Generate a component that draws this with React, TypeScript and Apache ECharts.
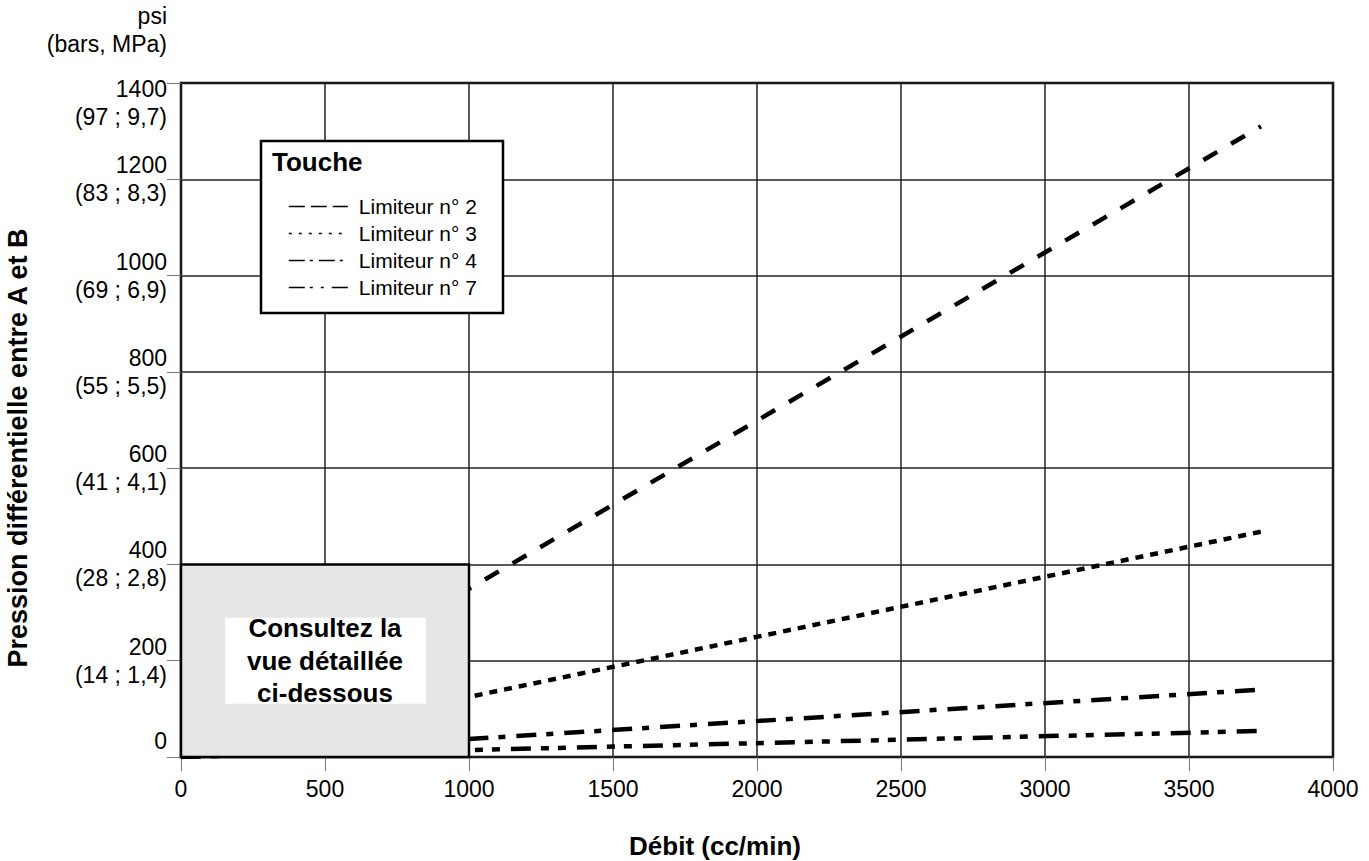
import React, { useEffect, useRef } from 'react';
import * as echarts from 'echarts';

// ---- data ----
const flowRate = [0, 3750];
const limiteur2 = [0, 1310];
const limiteur3 = [0, 468];
const limiteur4 = [0, 140];
const limiteur7 = [0, 54];
const seriesNames = ['Limiteur n° 2', 'Limiteur n° 3', 'Limiteur n° 4', 'Limiteur n° 7'];
const seriesValues = [limiteur2, limiteur3, limiteur4, limiteur7];

const xTickValues = [0, 500, 1000, 1500, 2000, 2500, 3000, 3500, 4000];
const yTickValues = [0, 200, 400, 600, 800, 1000, 1200, 1400];
const yTickMetric = ['', '(14 ; 1,4)', '(28 ; 2,8)', '(41 ; 4,1)', '(55 ; 5,5)', '(69 ; 6,9)', '(83 ; 8,3)', '(97 ; 9,7)'];

const detailFlow = [0, 1000];
const detailPressure = [0, 400];
const detailText = 'Consultez la\nvue détaillée\nci-dessous';

// ---- styles ----
const FONT = '"Liberation Sans", Arial, Helvetica, sans-serif';
const seriesDash = [
  [16, 16],
  [8, 7],
  [20, 10, 7, 11],
  [20, 10, 8, 9, 8, 11],
];
const legendDash = [
  [16, 6],
  [3, 7],
  [16, 5, 3, 6],
  [16, 5, 3, 8, 3, 8],
];

export default function App() {
  const ref = useRef<HTMLDivElement>(null);

  useEffect(() => {
    if (!ref.current) return;
    const chart = echarts.init(ref.current, undefined, { renderer: 'svg' });

    const yMax = yTickValues[yTickValues.length - 1];
    const yInterval = yTickValues[1] - yTickValues[0];
    const xMax = xTickValues[xTickValues.length - 1];
    const xInterval = xTickValues[1] - xTickValues[0];

    const lineSeries = seriesNames.map((name, i) => ({
      type: 'line',
      name,
      data: flowRate.map((x, j) => [x, seriesValues[i][j]]),
      symbol: 'none',
      silent: true,
      z: 3,
      lineStyle: { color: '#000', width: 4.5, type: seriesDash[i], cap: 'butt' },
    }));

    const option: any = {
      animation: false,
      backgroundColor: '#fff',
      grid: {
        left: 181,
        right: 36,
        top: 83,
        bottom: 104,
        show: true,
        borderColor: '#000',
        borderWidth: 2.5,
        backgroundColor: 'transparent',
        outerBoundsMode: 'none',
        containLabel: false,
      },
      xAxis: {
        type: 'value',
        min: xTickValues[0],
        max: xMax,
        interval: xInterval,
        name: 'Débit (cc/min)',
        nameLocation: 'middle',
        nameGap: 74,
        nameMoveOverlap: false,
        nameTextStyle: {
          color: '#000',
          fontFamily: FONT,
          fontWeight: 'bold',
          fontSize: 26,
          lineHeight: 30,
          padding: [0, 84, 0, 0],
        },
        axisLine: { show: false },
        axisTick: { show: true, length: 14, lineStyle: { color: '#777', width: 1 } },
        splitLine: { show: true, lineStyle: { color: '#222', width: 1.5 } },
        axisLabel: {
          margin: 20,
          color: '#000',
          fontFamily: FONT,
          fontSize: 23,
          showMinLabel: true,
          showMaxLabel: true,
          formatter: (value: number) => String(value),
        },
      },
      yAxis: {
        type: 'value',
        min: yTickValues[0],
        max: yMax,
        interval: yInterval,
        name: 'psi\n(bars, MPa)',
        nameLocation: 'end',
        nameGap: 25,
        nameMoveOverlap: false,
        nameTextStyle: {
          color: '#000',
          fontFamily: FONT,
          fontSize: 23,
          lineHeight: 28,
          align: 'right',
          verticalAlign: 'bottom',
          padding: [0, 14, 0, 0],
        },
        axisLine: { show: false },
        axisTick: { show: true, length: 14, lineStyle: { color: '#777', width: 1 } },
        splitLine: { show: true, lineStyle: { color: '#222', width: 1.5 } },
        axisLabel: {
          margin: 14,
          color: '#000',
          fontFamily: FONT,
          fontSize: 23,
          lineHeight: 28,
          align: 'right',
          showMinLabel: true,
          showMaxLabel: true,
          formatter: (value: number) => {
            const idx = yTickValues.indexOf(value);
            const metric = idx >= 0 ? yTickMetric[idx] : '';
            if (value === yMax) return `{gt| }\n{n|${value}}\n{n|${metric}}`;
            if (!metric) return `{n|${value}}\n{gb| }`;
            return `{n|${value}}\n{n|${metric}}`;
          },
          rich: {
            n: { fontFamily: FONT, fontSize: 23, lineHeight: 28, color: '#000' },
            gt: { fontSize: 2, lineHeight: 40 },
            gb: { fontSize: 2, lineHeight: 32 },
          },
        },
      },
      legend: {
        orient: 'vertical',
        left: 288,
        top: 196,
        padding: 0,
        itemWidth: 59,
        itemHeight: 14,
        itemGap: 6,
        selectedMode: false,
        z: 20,
        textStyle: { color: '#000', fontFamily: FONT, fontSize: 21, lineHeight: 20, padding: [0, 0, 0, 6] },
        data: seriesNames.map((name, i) => ({
          name,
          itemStyle: { opacity: 0 },
          lineStyle: { color: '#000', width: 1.6, type: legendDash[i] },
        })),
      },
      graphic: [
        {
          type: 'rect',
          z: 3,
          shape: { x: 261, y: 141, width: 242, height: 172 },
          style: { fill: '#fff', stroke: '#000', lineWidth: 2.5 },
        },
        {
          type: 'text',
          z: 25,
          x: 272,
          y: 162,
          style: {
            text: 'Touche',
            font: `bold 26px ${FONT}`,
            fill: '#000',
            verticalAlign: 'middle',
          },
        },
        {
          type: 'text',
          z: 25,
          x: 18,
          y: 448,
          rotation: Math.PI / 2,
          style: {
            text: 'Pression différentielle entre A et B',
            font: `bold 27px ${FONT}`,
            fill: '#000',
            align: 'center',
            verticalAlign: 'middle',
          },
        },
      ],
      series: [
        ...lineSeries,
        {
          type: 'custom',
          name: 'detail',
          z: 10,
          silent: true,
          clip: false,
          data: [[detailFlow[0], detailPressure[0], detailFlow[1], detailPressure[1]]],
          renderItem: (params: any, api: any) => {
            const tl = api.coord([api.value(0), api.value(3)]);
            const br = api.coord([api.value(2), api.value(1)]);
            const w = br[0] - tl[0];
            const h = br[1] - tl[1];
            const cx = tl[0] + w / 2;
            const cy = tl[1] + h / 2;
            return {
              type: 'group',
              children: [
                {
                  type: 'rect',
                  shape: { x: tl[0], y: tl[1], width: w, height: h },
                  style: { fill: '#e6e6e6', stroke: '#000', lineWidth: 2.5 },
                },
                {
                  type: 'rect',
                  shape: { x: cx - 100, y: cy - 43, width: 201, height: 86 },
                  style: { fill: '#fff', stroke: null },
                },
                {
                  type: 'text',
                  x: cx,
                  y: cy,
                  style: {
                    text: detailText,
                    font: `bold 26px ${FONT}`,
                    lineHeight: 32.5,
                    fill: '#000',
                    align: 'center',
                    verticalAlign: 'middle',
                  },
                },
              ],
            };
          },
        },
      ],
    };

    chart.setOption(option);
    return () => {
      chart.dispose();
    };
  }, []);

  return (
    <div
      ref={ref}
      style={{ position: 'fixed', left: 0, top: 0, width: 1369, height: 861, background: '#fff' }}
    />
  );
}
